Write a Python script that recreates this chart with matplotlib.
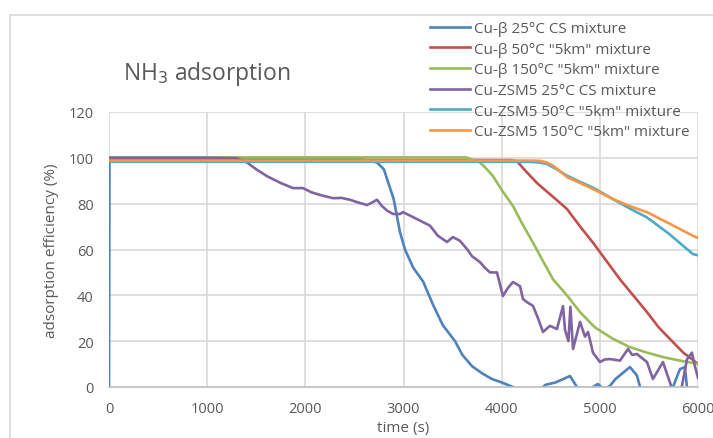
import matplotlib
matplotlib.use("Agg")
import matplotlib.pyplot as plt
from matplotlib.patches import Rectangle

plt.rcParams['font.family'] = ['Open Sans', 'DejaVu Sans']

labels = ['Cu-β 25°C CS mixture', 'Cu-β 50°C "5km" mixture', 'Cu-β 150°C "5km" mixture',
          'Cu-ZSM5 25°C CS mixture', 'Cu-ZSM5 50°C "5km" mixture', 'Cu-ZSM5 150°C "5km" mixture']
colors = ['#4F81BD', '#C0504D', '#9BBB59', '#8064A2', '#4BACC6', '#F79646']

blue_x = [0, 5, 500, 1000, 1500, 2000, 2500, 2730, 2800, 2900, 2964, 3015, 3100, 3200, 3300,
          3400, 3525, 3600, 3700, 3800, 3900, 4000, 4115, 4200, 4300, 4360, 4450, 4550, 4696, 4767,
          4850, 4930, 4980, 5040, 5103, 5160, 5230, 5307, 5378, 5410, 5500, 5600, 5700, 5745, 5816,
          5867, 5887, 5950, 6000]
blue_y = [0, 100, 100, 100, 100, 100, 100, 98, 95, 82, 67.6, 60, 52, 46, 36,
          27, 20, 14, 9, 6, 3.5, 2, 0, -3, -5, -2, 1, 2, 4.8, 0,
          -3, 0, 1.3, -1, 0.5, 3.5, 6, 8.7, 5, 0, -6, -10, -6, 0, 7.8,
          8.7, 0, -5, -8]

red_x = [0, 1000, 2000, 3000, 3500, 4000, 4100, 4156, 4250, 4360, 4441, 4550, 4665, 4800, 4930,
         5050, 5205, 5378, 5480, 5600, 5745, 5850, 5937, 6000]
red_y = [99.0, 99.0, 99.0, 99.0, 99.0, 99.0, 99.0, 98.5, 94, 89, 86, 82, 77.7, 70, 63,
         56, 47, 38, 32.7, 26, 19.6, 15, 12.2, 10]

green_x = [0, 1000, 2000, 3000, 3640, 3700, 3779, 3850, 3912, 4000, 4115, 4200, 4319, 4420, 4523,
           4665, 4798, 4950, 5134, 5300, 5480, 5650, 5816, 5950, 6000]
green_y = [100.2, 100.2, 100.2, 100.2, 100.2, 99.2, 98, 95, 92, 86, 79, 72, 63, 55, 47,
           40, 32.7, 26, 21, 17.5, 15, 13, 11.5, 10.5, 10]

purple_x = [0, 500, 1000, 1300, 1405, 1500, 1609, 1750, 1874, 1976, 2060, 2149, 2282, 2370, 2455,
            2540, 2628, 2680, 2730, 2780, 2832, 2893, 2964, 2995, 3080, 3168, 3270, 3350, 3443, 3504,
            3575, 3650, 3700, 3779, 3830, 3881, 3952, 4013, 4060, 4115, 4187, 4217, 4258, 4319, 4370,
            4421, 4492, 4563, 4625, 4645, 4680, 4700, 4727, 4798, 4849, 4880, 4930, 5001, 5050, 5103,
            5205, 5287, 5330, 5378, 5480, 5541, 5643, 5714, 5745, 5790, 5837, 5887, 5938, 5969, 6000]
purple_y = [100, 100, 100, 99.8, 98, 95, 92, 89, 86.8, 86.8, 85, 83.8, 82.4, 82.5, 81.7,
            80.5, 79.4, 80.5, 81.7, 79, 77, 75.5, 75.5, 76.3, 74.5, 72.6, 70.4, 66, 63.3, 65.4,
            63.8, 60, 57, 54.5, 52, 50, 50, 39.7, 43, 45.8, 44, 38.4, 37, 35.4, 30,
            24, 26.7, 25.3, 35.3, 25, 20, 35, 16.6, 28.4, 22, 24, 15, 10.9, 12, 12.2,
            11.5, 16.6, 14, 14.4, 10.9, 3.5, 10.9, 2, -2, -6, 0.5, 12, 15, 9, 4]

cyan_x = [0, 1000, 2000, 3000, 4000, 4300, 4380, 4462, 4560, 4665, 4800, 4930, 5134, 5300, 5480,
          5700, 5948, 6000]
cyan_y = [98.3, 98.3, 98.3, 98.3, 98.3, 98.2, 98, 97.3, 95, 92.2, 89.5, 87, 82, 78, 74,
          67, 58, 57.5]

orange_x = [0, 1000, 2000, 3000, 4000, 4300, 4390, 4460, 4523, 4600, 4665, 4800, 4930, 5134, 5300,
            5480, 5700, 5948, 6000]
orange_y = [98.8, 98.8, 98.8, 98.8, 98.8, 98.8, 98.7, 98, 96.6, 94, 91.6, 89, 86.4, 82, 79,
            76.3, 71.5, 66, 65]

series = [(blue_x, blue_y), (red_x, red_y), (green_x, green_y),
          (purple_x, purple_y), (cyan_x, cyan_y), (orange_x, orange_y)]

x_ticks = [0, 1000, 2000, 3000, 4000, 5000, 6000]
y_ticks = [0, 20, 40, 60, 80, 100, 120]

W, H = 713, 439
fig = plt.figure(figsize=(W / 100, H / 100), dpi=100)
ax = fig.add_axes([109 / W, 1 - 388 / H, (698 - 109) / W, (388 - 113) / H])

handles = []
for (xs, ys), c, lab in zip(series, colors, labels):
    h, = ax.plot(xs, ys, color=c, lw=1.9, label=lab, solid_joinstyle='round')
    handles.append(h)

ax.set_xlim(0, 6000)
ax.set_ylim(0, 120)
ax.set_xticks(x_ticks)
ax.set_yticks(y_ticks)
ax.grid(True, color='#d9d9d9', lw=1.2)
ax.set_axisbelow(True)
for s in ['top', 'right', 'left']:
    ax.spines[s].set_visible(False)
ax.spines['bottom'].set_color('#bfbfbf')
ax.spines['bottom'].set_linewidth(1.2)
ax.tick_params(length=0, labelsize=10.5, labelcolor='#595959')
ax.tick_params(axis='x', pad=10)
ax.tick_params(axis='y', pad=11)
ax.set_xlabel('time (s)', fontsize=11, color='#595959', labelpad=3)
ax.set_ylabel('adsorption efficiency (%)', fontsize=11, color='#595959', labelpad=7)

fig.text(207 / W, 1 - 74 / H, 'NH$_3$ adsorption', fontsize=16.5, color='#595959',
         ha='center', va='center')

fig.legend(handles=handles, labels=labels, loc='upper left',
           bbox_to_anchor=(430 / W, 1 - 22 / H), frameon=False, fontsize=11,
           labelcolor='#595959', borderaxespad=0, borderpad=0, labelspacing=0.37,
           handlelength=2.6, handletextpad=0.3)

fig.add_artist(Rectangle((10 / W, -0.1), 1.2, 1 - 16 / H + 0.1, transform=fig.transFigure,
                         fill=False, edgecolor='#d9d9d9', lw=1.2))

fig.savefig('out.png', dpi=100)
